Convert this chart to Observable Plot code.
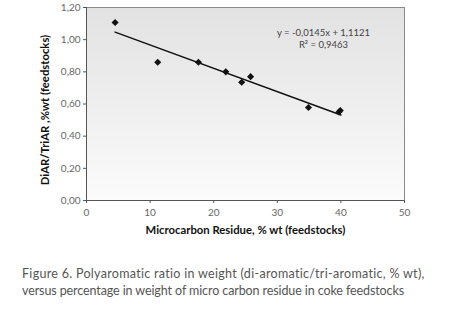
<!DOCTYPE html>
<html><head><meta charset="utf-8">
<script src="https://cdn.jsdelivr.net/npm/d3@7"></script>
<script src="https://cdn.jsdelivr.net/npm/@observablehq/plot@0.6"></script>
<style>
body{margin:0;background:#fff;}
#chart svg{display:block;}
#cap{font-family:Lato,"Open Sans",sans-serif;font-size:12.5px;color:#555;line-height:17px;margin:20px 0 0 22px;white-space:nowrap;}
#cap .l1{letter-spacing:0.3px;}
#cap .l2{letter-spacing:-0.1px;}
</style></head><body>
<div id="chart"></div>
<div id="cap"><span class="l1">Figure 6. Polyaromatic ratio in weight (di-aromatic/tri-aromatic, % wt),</span><br><span class="l2">versus percentage in weight of micro carbon residue in coke feedstocks</span></div>
<script>
const mcr = [4.5, 11.2, 17.6, 21.9, 24.4, 25.8, 34.9, 39.7, 39.9];
const ratio = [1.107, 0.86, 0.86, 0.80, 0.735, 0.77, 0.578, 0.55, 0.56];
const xTicks = [0, 10, 20, 30, 40, 50];
const yTicks = [0, 0.2, 0.4, 0.6, 0.8, 1.0, 1.2];
const slope = -0.0145, intercept = 1.1121, r2 = 0.9463;
const fitRange = [4.5, 40];
const eqText = "y = -0,0145x + 1,1121\nR² = 0,9463";
const xTitle = "Microcarbon Residue, % wt (feedstocks)";
const yTitle = "DiAR/TriAR ,%wt (feedstocks)";

const points = mcr.map((x, i) => ({x, y: ratio[i]}));
const fit = fitRange.map(x => ({x, y: slope * x + intercept}));
const fmtY = d => d3.format(".2f")(d).replace(".", ",");

const chart = Plot.plot({
  width: 450, height: 245,
  marginLeft: 86, marginRight: 46, marginTop: 7, marginBottom: 45,
  style: {fontFamily: "Lato, 'Open Sans', sans-serif", fontSize: "10px", color: "#555", background: "transparent"},
  x: {domain: [0, 50]},
  y: {domain: [0, 1.2]},
  marks: [
    Plot.frame({fill: "url(#bgGrad)", stroke: "#8a8a8a", strokeWidth: 1}),
    Plot.ruleX([0], {stroke: "#555"}),
    Plot.ruleY([0], {stroke: "#555"}),
    Plot.axisX({ticks: xTicks, tickSize: 3, tickPadding: 5, label: null, fill: "#666", stroke: "#555"}),
    Plot.axisY({ticks: yTicks, tickSize: 3, tickPadding: 3, tickFormat: fmtY, label: null, fill: "#666", stroke: "#555"}),
    Plot.line(fit, {x: "x", y: "y", stroke: "#111", strokeWidth: 1.5}),
    Plot.dot(points, {x: "x", y: "y", symbol: "diamond2", r: 3.2, fill: "#111", stroke: "none"}),
    Plot.text([eqText], {frameAnchor: "top-right", dx: -81, dy: 19, textAnchor: "middle", lineAnchor: "top", lineHeight: 1.35, fontSize: 9.5, fill: "#444"}),
    Plot.text([xTitle], {frameAnchor: "bottom", dy: 33, textAnchor: "middle", fontWeight: "bold", fontSize: 11.3, fill: "#111"}),
    Plot.text([yTitle], {frameAnchor: "left", dx: -41, dy: 6, rotate: -90, textAnchor: "middle", lineAnchor: "middle", fontWeight: "bold", fontSize: 11.3, fill: "#111"})
  ]
});

const defs = d3.select(chart).insert("defs", ":first-child");
const g = defs.append("linearGradient").attr("id", "bgGrad").attr("x1", 0).attr("y1", 0).attr("x2", 0).attr("y2", 1);
g.append("stop").attr("offset", "0%").attr("stop-color", "#e2e2e2");
g.append("stop").attr("offset", "100%").attr("stop-color", "#fbfbfb");

document.getElementById("chart").append(chart);
</script>
</body></html>
